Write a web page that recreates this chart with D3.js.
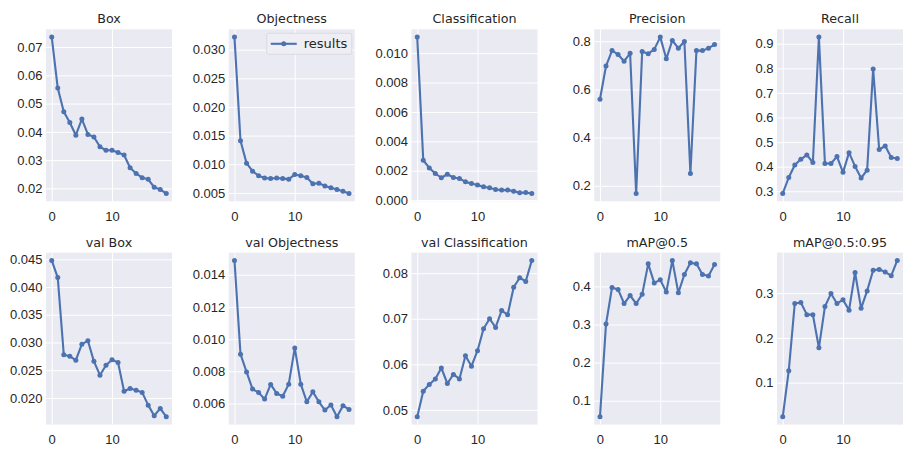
<!DOCTYPE html>
<html>
<head>
<meta charset="utf-8">
<script src="https://cdn.jsdelivr.net/npm/d3@7"></script>
<style>
  html, body { margin: 0; padding: 0; background: #fff; }
  svg { display: block; font-family: "DejaVu Sans", sans-serif; }
  .tick-label { font-size: 13px; fill: #262626; }
  .title { font-size: 12.7px; fill: #262626; }
</style>
</head>
<body>
<svg id="chart" width="913" height="454"></svg>
<script>
  const epochs = [0, 1, 2, 3, 4, 5, 6, 7, 8, 9, 10, 11, 12, 13, 14, 15, 16, 17, 18, 19];
  const titles = ["Box", "Objectness", "Classification", "Precision", "Recall",
    "val Box", "val Objectness", "val Classification", "mAP@0.5", "mAP@0.5:0.95"];

  const box = [0.0735, 0.0555, 0.0471, 0.0433, 0.0388, 0.0445, 0.0391, 0.0382, 0.0347, 0.0335,
    0.0335, 0.0327, 0.0318, 0.0273, 0.0253, 0.0238, 0.0232, 0.0204, 0.0196, 0.0182];
  const objectness = [0.0322, 0.0141, 0.0102, 0.0088, 0.0080, 0.0076, 0.0075, 0.0076, 0.0075, 0.0074,
    0.0082, 0.0080, 0.0077, 0.0066, 0.0067, 0.0062, 0.0059, 0.0056, 0.0053, 0.0049];
  const classification = [0.01109, 0.00271, 0.00219, 0.00181, 0.00152, 0.00176, 0.00154, 0.00147, 0.00124, 0.00113,
    0.00102, 0.00090, 0.00084, 0.00072, 0.00068, 0.00068, 0.00061, 0.00050, 0.00052, 0.00045];
  const precision = [0.559, 0.697, 0.761, 0.745, 0.717, 0.750, 0.168, 0.757, 0.748, 0.766,
    0.817, 0.727, 0.803, 0.771, 0.799, 0.251, 0.761, 0.761, 0.771, 0.786];
  const recall = [0.291, 0.356, 0.407, 0.430, 0.448, 0.417, 0.927, 0.413, 0.413, 0.441,
    0.377, 0.457, 0.401, 0.354, 0.386, 0.797, 0.470, 0.484, 0.437, 0.433];
  const valBox = [0.0448, 0.0417, 0.0278, 0.0275, 0.0268, 0.0297, 0.0303, 0.0266, 0.0241, 0.0259,
    0.0269, 0.0264, 0.0212, 0.0217, 0.0214, 0.0210, 0.0187, 0.0168, 0.0181, 0.0166];
  const valObjectness = [0.01489, 0.00906, 0.00796, 0.00689, 0.00668, 0.00627, 0.00718, 0.00662, 0.00645, 0.00720,
    0.00945, 0.00720, 0.00610, 0.00672, 0.00610, 0.00559, 0.00590, 0.00517, 0.00586, 0.00563];
  const valClassification = [0.0485, 0.0541, 0.0556, 0.0568, 0.0592, 0.0558, 0.0578, 0.0568, 0.0619, 0.0596,
    0.0630, 0.0678, 0.0700, 0.0681, 0.0718, 0.0709, 0.0769, 0.0790, 0.0782, 0.0828];
  const map50 = [0.058, 0.301, 0.397, 0.392, 0.355, 0.376, 0.355, 0.379, 0.459, 0.409,
    0.417, 0.385, 0.468, 0.383, 0.431, 0.462, 0.459, 0.431, 0.427, 0.457];
  const map5095 = [0.024, 0.127, 0.277, 0.279, 0.252, 0.252, 0.178, 0.270, 0.299, 0.277,
    0.285, 0.262, 0.346, 0.266, 0.305, 0.351, 0.353, 0.347, 0.339, 0.373];

  const xTicks = [0, 10];
  const yTicks = [
    ["0.02", "0.03", "0.04", "0.05", "0.06", "0.07"],
    ["0.005", "0.010", "0.015", "0.020", "0.025", "0.030"],
    ["0.000", "0.002", "0.004", "0.006", "0.008", "0.010"],
    ["0.2", "0.4", "0.6", "0.8"],
    ["0.3", "0.4", "0.5", "0.6", "0.7", "0.8", "0.9"],
    ["0.020", "0.025", "0.030", "0.035", "0.040", "0.045"],
    ["0.006", "0.008", "0.010", "0.012", "0.014"],
    ["0.05", "0.06", "0.07", "0.08"],
    ["0.1", "0.2", "0.3", "0.4"],
    ["0.1", "0.2", "0.3"],
  ];
  const series = [box, objectness, classification, precision, recall,
    valBox, valObjectness, valClassification, map50, map5095];

  const COLOR = "#4C72B0";
  const PLOT_W = 126, PLOT_H = 172;
  const COL_LEFT = [46, 228.75, 411.5, 594.25, 777];
  const ROW_TOP = [29.3, 252.6];

  const svg = d3.select("#chart");

  series.forEach((values, i) => {
    const left = COL_LEFT[i % 5];
    const top = ROW_TOP[Math.floor(i / 5)];
    const g = svg.append("g").attr("transform", `translate(${left},${top})`);

    // matplotlib style 5% margins
    const [lo, hi] = d3.extent(values);
    const pad = (hi - lo) * 0.05;
    const x = d3.scaleLinear().domain([-0.95, 19.95]).range([0, PLOT_W]);
    const y = d3.scaleLinear().domain([lo - pad, hi + pad]).range([PLOT_H, 0]);

    g.append("rect")
      .attr("width", PLOT_W).attr("height", PLOT_H)
      .attr("fill", "#EAEAF2");

    const yAxis = d3.axisLeft(y)
      .tickValues(yTicks[i].map(Number))
      .tickFormat((d, k) => yTicks[i][k])
      .tickSize(0).tickPadding(3.5);
    const yg = g.append("g").call(yAxis);
    yg.select(".domain").remove();
    yg.selectAll("text").attr("class", "tick-label").attr("fill", null);
    yg.selectAll(".tick").append("line")
      .attr("x2", PLOT_W).attr("stroke", "#fff").attr("stroke-width", 1);

    const xAxis = d3.axisBottom(x).tickValues(xTicks).tickFormat(d3.format("d"))
      .tickSize(0).tickPadding(10.5);
    const xg = g.append("g").attr("transform", `translate(0,${PLOT_H})`).call(xAxis);
    xg.select(".domain").remove();
    xg.selectAll("text").attr("class", "tick-label").attr("fill", null);
    xg.selectAll(".tick").append("line")
      .attr("y2", -PLOT_H).attr("stroke", "#fff").attr("stroke-width", 1);

    const line = d3.line().x((d, k) => x(epochs[k])).y((d) => y(d));
    g.append("path")
      .datum(values)
      .attr("d", line)
      .attr("fill", "none")
      .attr("stroke", COLOR)
      .attr("stroke-width", 2.1)
      .attr("stroke-linejoin", "round");

    g.selectAll("circle.pt")
      .data(values)
      .join("circle")
      .attr("class", "pt")
      .attr("cx", (d, k) => x(epochs[k]))
      .attr("cy", (d) => y(d))
      .attr("r", 2.5)
      .attr("fill", COLOR);

    g.append("text")
      .attr("class", "title")
      .attr("x", PLOT_W / 2)
      .attr("y", -6)
      .attr("text-anchor", "middle")
      .text(titles[i]);

    if (i === 1) {
      const lg = g.append("g").attr("transform", `translate(${PLOT_W - 88},4)`);
      lg.append("rect")
        .attr("width", 85).attr("height", 21).attr("rx", 2)
        .attr("fill", "#eeeef4").attr("stroke", "#d4d4dc").attr("stroke-width", 0.8);
      lg.append("line")
        .attr("x1", 4).attr("x2", 30).attr("y1", 10.5).attr("y2", 10.5)
        .attr("stroke", COLOR).attr("stroke-width", 2.1);
      lg.append("circle").attr("cx", 17).attr("cy", 10.5).attr("r", 2.5).attr("fill", COLOR);
      lg.append("text")
        .attr("class", "tick-label")
        .attr("x", 37).attr("y", 15)
        .text("results");
    }
  });
</script>
</body>
</html>
